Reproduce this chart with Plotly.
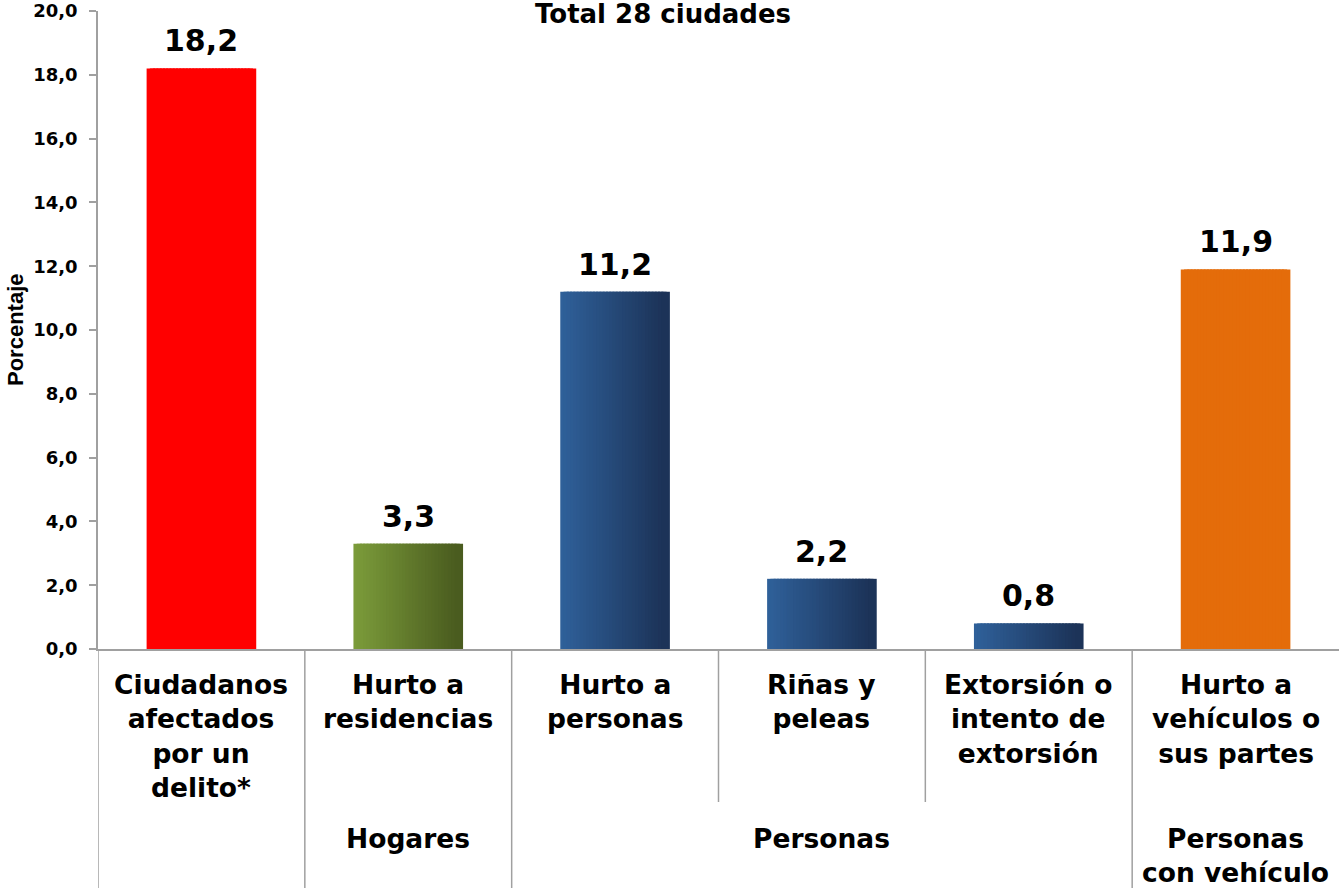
import plotly.graph_objects as go

categories = ["Ciudadanos<br>afectados<br>por un<br>delito*", "Hurto a<br>residencias", "Hurto a<br>personas",
              "Riñas y<br>peleas", "Extorsión o<br>intento de<br>extorsión", "Hurto a<br>vehículos o<br>sus partes"]
values = [18.2, 3.3, 11.2, 2.2, 0.8, 11.9]
groups = ["", "Hogares", "Personas", "Personas<br>con vehículo"]
group_spans = [(0, 0), (1, 1), (2, 4), (5, 5)]
left_colors = ["#FF0000", "#7B9B3A", "#2F6099", "#2F6099", "#2F6099", "#E46C0A"]
right_colors = ["#FF0000", "#4A5C1F", "#1C3358", "#1C3358", "#1C3358", "#E46C0A"]
yticks = [0, 2, 4, 6, 8, 10, 12, 14, 16, 18, 20]

W = 1339
H = 890
ML, MR, MT, MB = 98, 0, 11, 241
plot_h = H - MT - MB

def py(pix):
    return (H - MB - pix) / plot_h

def hex2rgb(h):
    h = h.lstrip("#")
    return tuple(int(h[i:i + 2], 16) for i in (0, 2, 4))

def mix(a, b, t):
    ra, rb = hex2rgb(a), hex2rgb(b)
    return "rgb(%d,%d,%d)" % tuple(round(ra[k] + (rb[k] - ra[k]) * t) for k in range(3))

x_idx = list(range(len(categories)))
BW = 0.53
N = 32
sw = 2.5 * BW / N
step = (BW - sw) / (N - 1)
fig = go.Figure()
for i in range(N):
    t = i / (N - 1)
    cols = [mix(l, r, t) for l, r in zip(left_colors, right_colors)]
    fig.add_trace(go.Bar(
        x=x_idx, y=values,
        width=sw, offset=-BW / 2 + i * step,
        marker=dict(color=cols, line=dict(width=0)),
        hoverinfo="skip", showlegend=False,
    ))

grey = "#A0A0A0"
shapes = []
for b in [-0.5, 0.5, 1.5, 4.5]:
    shapes.append(dict(type="line", xref="x", yref="paper", x0=b, x1=b, y0=0, y1=py(888),
                       line=dict(color=grey, width=1.5)))
for b in [2.5, 3.5]:
    shapes.append(dict(type="line", xref="x", yref="paper", x0=b, x1=b, y0=0, y1=py(802),
                       line=dict(color=grey, width=1.5)))

annotations = []
valfont = dict(family="DejaVu Sans", size=30, color="black", weight="bold")
for i, v in enumerate(values):
    annotations.append(dict(x=i, y=v, xref="x", yref="y", text=f"{v:.1f}".replace(".", ","),
                            showarrow=False, xanchor="center", yanchor="bottom", yshift=8, font=valfont))
catfont = dict(family="DejaVu Sans", size=26.5, color="black", weight="bold")
for i, c in enumerate(categories):
    annotations.append(dict(x=i, y=py(667), xref="x", yref="paper", text=c, showarrow=False,
                            xanchor="center", yanchor="top", font=catfont))
for g, (a, b) in zip(groups, group_spans):
    if not g:
        continue
    nl = g.count("<br>") + 1
    cy = 838 + (nl - 1) * 17
    annotations.append(dict(x=(a + b) / 2, y=py(cy), xref="x", yref="paper", text=g, showarrow=False,
                            xanchor="center", yanchor="middle", font=catfont))
annotations.append(dict(x=(663 - ML) / (W - ML - MR), y=py(14), xref="paper", yref="paper",
                        text="Total 28 ciudades", showarrow=False, xanchor="center", yanchor="middle",
                        font=dict(family="DejaVu Sans", size=26, color="black", weight="bold")))
annotations.append(dict(x=(15 - ML) / (W - ML - MR), y=py(330), xref="paper", yref="paper",
                        text="Porcentaje", showarrow=False, textangle=-90, xanchor="center", yanchor="middle",
                        font=dict(family="Liberation Sans", size=22, color="black", weight="bold")))

fig.update_layout(
    width=W, height=H,
    margin=dict(l=ML, r=MR, t=MT, b=MB, autoexpand=False),
    paper_bgcolor="white", plot_bgcolor="white",
    barmode="overlay", separators=",.",
    shapes=shapes, annotations=annotations,
    xaxis=dict(range=[-0.5, len(categories) - 0.5], showticklabels=False, ticks="",
               showline=True, linecolor=grey, linewidth=1.5, showgrid=False, zeroline=False, fixedrange=True),
    yaxis=dict(range=[0, 20], tickvals=yticks, tickformat=".1f", ticks="outside", ticklen=7,
               tickcolor=grey, tickwidth=1.5, showline=True, linecolor=grey, linewidth=1.5,
               showgrid=False, zeroline=False, ticklabelstandoff=8,
               tickfont=dict(family="DejaVu Sans", size=18, color="black", weight="bold")),
    font=dict(family="DejaVu Sans", color="black"),
)
fig.write_html("out.html", config={"displayModeBar": False},
               post_script="document.body.style.margin='0px';document.body.style.overflow='hidden';")
